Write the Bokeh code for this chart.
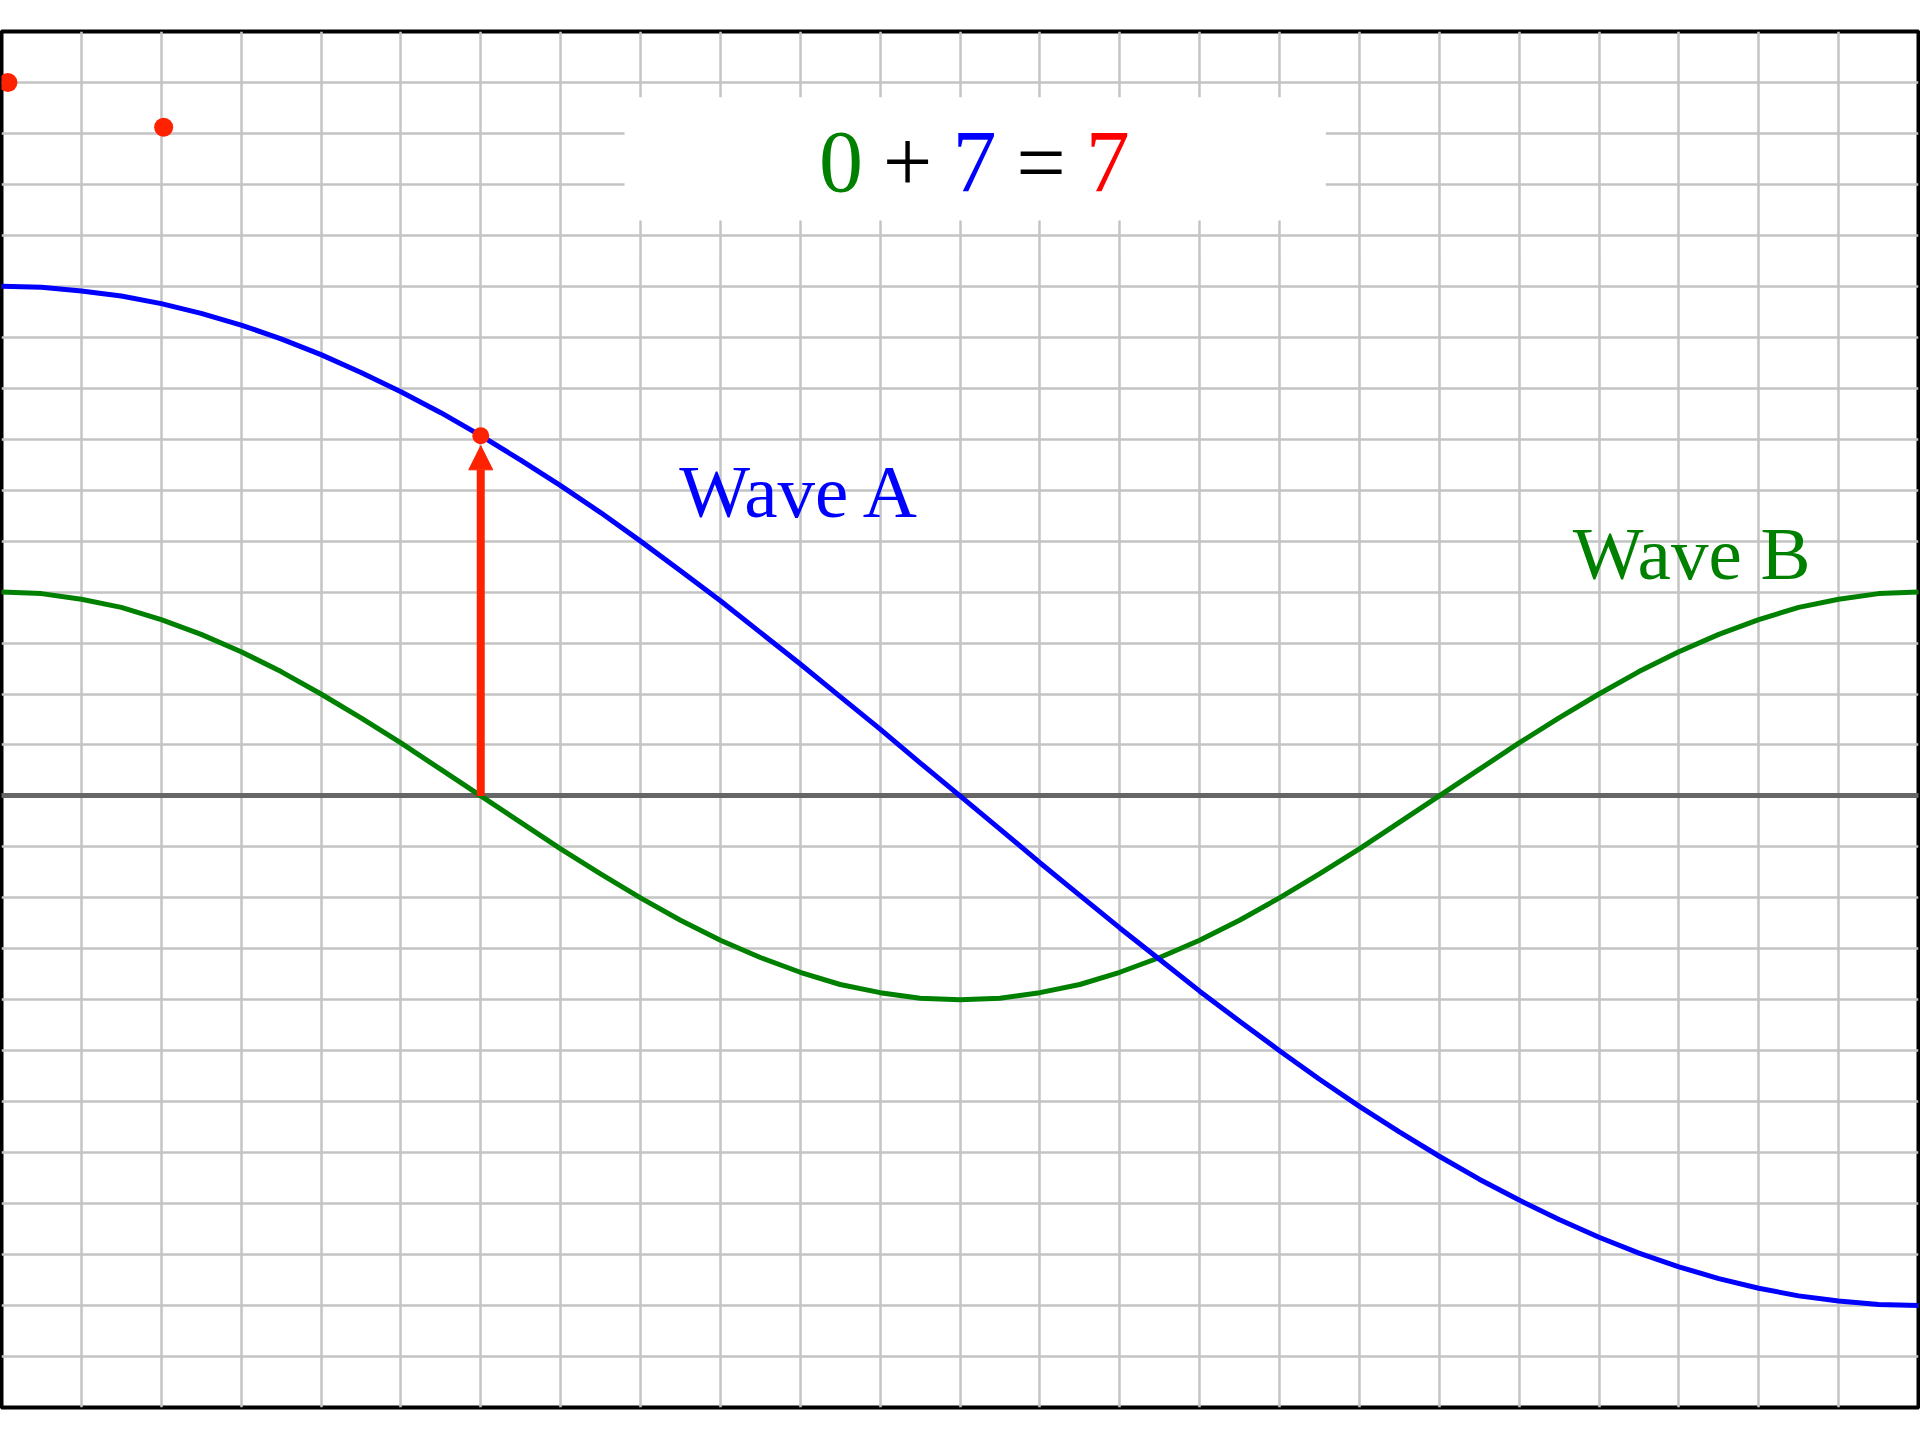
from bokeh.plotting import figure
from bokeh.models import Range1d, SingleIntervalTicker, Arrow, NormalHead
from bokeh.core.properties import value
from bokeh.embed import file_html
from bokeh.resources import INLINE

x_pos = [i / 2 for i in range(49)]
wave_a = [10.00, 9.98, 9.91, 9.81, 9.66, 9.47, 9.24, 8.97, 8.66, 8.31, 7.93, 7.52, 7.07,
          6.59, 6.09, 5.56, 5.00, 4.42, 3.83, 3.21, 2.59, 1.95, 1.31, 0.65, 0.00,
          -0.65, -1.31, -1.95, -2.59, -3.21, -3.83, -4.42, -5.00, -5.56, -6.09, -6.59, -7.07,
          -7.52, -7.93, -8.31, -8.66, -8.97, -9.24, -9.47, -9.66, -9.81, -9.91, -9.98, -10.00]
wave_b = [4.00, 3.97, 3.86, 3.70, 3.46, 3.17, 2.83, 2.44, 2.00, 1.53, 1.04, 0.52, 0.00,
          -0.52, -1.04, -1.53, -2.00, -2.44, -2.83, -3.17, -3.46, -3.70, -3.86, -3.97, -4.00,
          -3.97, -3.86, -3.70, -3.46, -3.17, -2.83, -2.44, -2.00, -1.53, -1.04, -0.52, 0.00,
          0.52, 1.04, 1.53, 2.00, 2.44, 2.83, 3.17, 3.46, 3.70, 3.86, 3.97, 4.00]
trail_x = [0.08, 2.03]
trail_y = [14.00, 13.12]
cur_x = 6
cur_b = 0.0
cur_a = 7.07
eq_text = ["0", "+", "7", "=", "7"]
eq_colors = ["#008000", "#000000", "#0000ff", "#000000", "#ff0000"]
label_text = ["Wave A", "Wave B"]
label_colors = ["#0000ff", "#008000"]

RED = "#ff2200"

p = figure(width=1920, height=1440, x_range=Range1d(0, 24), y_range=Range1d(-12, 15),
           output_backend="svg", toolbar_location=None,
           min_border_left=1, min_border_right=2, min_border_top=31, min_border_bottom=33)
p.xaxis.visible = False
p.yaxis.visible = False
p.xgrid.ticker = SingleIntervalTicker(interval=1, num_minor_ticks=0)
p.ygrid.ticker = SingleIntervalTicker(interval=1, num_minor_ticks=0)
p.grid.grid_line_color = "#c4c4c4"
p.grid.grid_line_width = 2.5
p.outline_line_color = "black"
p.outline_line_width = 4
p.background_fill_color = "white"
p.border_fill_color = "white"

# zero axis
p.hspan(y=[0], line_color="#666666", line_width=5)

# waves
p.line(x_pos, wave_b, line_color="#008000", line_width=5)
p.line(x_pos, wave_a, line_color="#0000ff", line_width=5)

# white box behind the equation
p.quad(left=[7.80], right=[16.58], top=[13.71], bottom=[11.29], fill_color="white", line_color=None)

# equation characters
eq_center = 12.18
eq_step = 0.835
eq_x = [eq_center + (i - 2) * eq_step for i in range(len(eq_text))]
p.text(x=eq_x, y=[12.43] * len(eq_text), text=eq_text, text_color=eq_colors,
       text_font=value("Liberation Serif"), text_font_size="88px",
       text_align="center", text_baseline="alphabetic")

# wave labels
p.text(x=[10.0, 21.16], y=[5.98, 4.75], text=label_text, text_color=label_colors,
       text_font=value("Liberation Serif"), text_font_size="75px",
       text_align="center", text_baseline="alphabetic")

# arrow from wave B value to the sum
p.add_layout(Arrow(end=NormalHead(size=24, fill_color=RED, line_color=RED, line_width=1),
                   x_start=cur_x, y_start=cur_b, x_end=cur_x, y_end=cur_b + cur_a - 0.2,
                   line_color=RED, line_width=8))

# trail dots and current sum point
p.scatter(trail_x, trail_y, size=19, fill_color=RED, line_color=None)
p.scatter([cur_x], [cur_b + cur_a], size=17, fill_color=RED, line_color=None)

open("out.html", "w").write(file_html(p, INLINE))
